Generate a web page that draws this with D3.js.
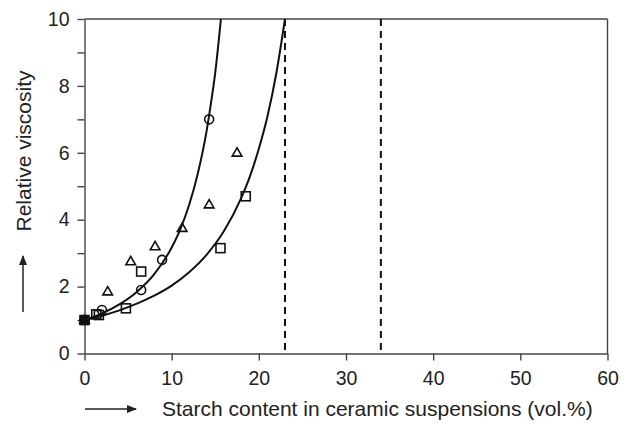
<!DOCTYPE html>
<html>
<head>
<meta charset="utf-8">
<script src="https://cdn.jsdelivr.net/npm/d3@7"></script>
<style>
  body { margin: 0; background: #fff; }
  svg text { font-family: "Liberation Sans", Arial, sans-serif; fill: #222; }
</style>
</head>
<body>
<div id="container"></div>
<script>
/* CONSTANTS AND GLOBALS */
const width = 629,
  height = 424;
const margin = { left: 84.5, right: 21.5, top: 19, bottom: 70.5 };

/* DATA */
const circleX = [0, 2.0, 6.5, 8.9, 14.3];
const circleY = [1.0, 1.3, 1.9, 2.8, 7.0];

const squareX = [0, 1.35, 1.65, 4.75, 6.5, 15.6, 18.5];
const squareY = [1.0, 1.17, 1.15, 1.35, 2.45, 3.15, 4.7];

const triangleX = [0, 2.66, 5.3, 8.1, 11.2, 14.3, 17.5];
const triangleY = [1.0, 1.85, 2.75, 3.2, 3.75, 4.45, 6.0];

// fitted curves
const fit1X = [0, 2, 4, 6, 8, 10, 11, 12, 13, 14, 14.5, 15, 15.65];
const fit1Y = [1.0, 1.2, 1.47, 1.84, 2.37, 3.17, 3.72, 4.44, 5.38, 6.64, 7.47, 8.4, 10];

const fit2X = [0, 2, 4, 6, 8, 10, 12, 14, 16, 18, 19, 20, 21, 22, 23];
const fit2Y = [1.0, 1.13, 1.29, 1.49, 1.73, 2.03, 2.43, 2.95, 3.66, 4.66, 5.31, 6.12, 7.1, 8.37, 10];

const dashedX = [23, 34];

const xTicks = [0, 10, 20, 30, 40, 50, 60];
const yTicks = [0, 1, 2, 3, 4, 5, 6, 7, 8, 9, 10];

const zip = (xs, ys) => xs.map((x, i) => ({ x: x, y: ys[i] }));

// SCALES
const xScale = d3.scaleLinear()
  .domain([0, 60])
  .range([margin.left, width - margin.right]);

const yScale = d3.scaleLinear()
  .domain([0, 10])
  .range([height - margin.bottom, margin.top]);

// CREATE SVG ELEMENT
const svg = d3.select("#container")
  .append("svg")
  .attr("width", width)
  .attr("height", height);

const axisColor = "#444";

// AXES
const xAxis = svg.append("g")
  .attr("class", "x-axis")
  .attr("transform", `translate(0,${height - margin.bottom})`)
  .call(d3.axisBottom(xScale).tickValues(xTicks).tickSize(7).tickSizeOuter(0).tickPadding(11));

const yAxis = svg.append("g")
  .attr("class", "y-axis")
  .attr("transform", `translate(${margin.left},0)`)
  .call(d3.axisLeft(yScale).tickValues(yTicks).tickSize(7).tickSizeOuter(0).tickPadding(8)
    .tickFormat(d => d % 2 === 0 ? d : ""));

[xAxis, yAxis].forEach(g => {
  g.selectAll("path, line").attr("stroke", axisColor).attr("stroke-width", 1.4);
  g.selectAll("text").style("font-size", "19.5px").attr("fill", "#222");
});

// frame top and right
svg.append("line")
  .attr("x1", xScale(0)).attr("x2", xScale(60))
  .attr("y1", yScale(10)).attr("y2", yScale(10))
  .attr("stroke", axisColor).attr("stroke-width", 1.4);
svg.append("line")
  .attr("x1", xScale(60)).attr("x2", xScale(60))
  .attr("y1", yScale(10)).attr("y2", yScale(0))
  .attr("stroke", axisColor).attr("stroke-width", 1.4);

// DASHED LINES
svg.selectAll(".dash")
  .data(dashedX)
  .join("line")
  .attr("class", "dash")
  .attr("x1", d => xScale(d)).attr("x2", d => xScale(d))
  .attr("y1", yScale(10)).attr("y2", yScale(0))
  .attr("stroke", "#111")
  .attr("stroke-width", 2)
  .attr("stroke-dasharray", "7,5");

// LINE GENERATOR FUNCTION
const lineGen = d3.line()
  .x(d => xScale(d.x))
  .y(d => yScale(d.y))
  .curve(d3.curveMonotoneX);

svg.selectAll(".fit")
  .data([zip(fit1X, fit1Y), zip(fit2X, fit2Y)])
  .join("path")
  .attr("class", "fit")
  .attr("fill", "none")
  .attr("stroke", "#111")
  .attr("stroke-width", 2)
  .attr("d", d => lineGen(d));

// MARKERS
svg.selectAll(".sq")
  .data(zip(squareX, squareY))
  .join("rect")
  .attr("class", "sq")
  .attr("x", d => xScale(d.x) - 4.5)
  .attr("y", d => yScale(d.y) - 4.5)
  .attr("width", 9).attr("height", 9)
  .attr("fill", (d, i) => i === 0 ? "#111" : "none")
  .attr("stroke", "#111").attr("stroke-width", 1.6);

svg.selectAll(".circ")
  .data(zip(circleX, circleY))
  .join("circle")
  .attr("class", "circ")
  .attr("cx", d => xScale(d.x))
  .attr("cy", d => yScale(d.y))
  .attr("r", 4.5)
  .attr("fill", "none")
  .attr("stroke", "#111").attr("stroke-width", 1.6);

const tri = d3.symbol().type(d3.symbolTriangle).size(40);
svg.selectAll(".tri")
  .data(zip(triangleX, triangleY))
  .join("path")
  .attr("class", "tri")
  .attr("transform", d => `translate(${xScale(d.x)},${yScale(d.y) + 0.5})`)
  .attr("d", tri)
  .attr("fill", "none")
  .attr("stroke", "#111").attr("stroke-width", 1.6);

// AXIS TITLES WITH ARROWS
svg.append("text")
  .attr("transform", "translate(31,151) rotate(-90)")
  .attr("text-anchor", "middle")
  .style("font-size", "21px")
  .text("Relative viscosity");

svg.append("text")
  .attr("x", 162)
  .attr("y", 416)
  .style("font-size", "21px")
  .text("Starch content in ceramic suspensions (vol.%)");

svg.append("defs").append("marker")
  .attr("id", "arrow")
  .attr("viewBox", "0 0 10 10")
  .attr("refX", 9).attr("refY", 5)
  .attr("markerWidth", 10).attr("markerHeight", 10)
  .attr("markerUnits", "userSpaceOnUse")
  .attr("orient", "auto")
  .append("path")
  .attr("d", "M0,1 L10,5 L0,9 Z")
  .attr("fill", "#222");

svg.append("line")
  .attr("x1", 23).attr("x2", 23)
  .attr("y1", 312).attr("y2", 256)
  .attr("stroke", "#222").attr("stroke-width", 1.5)
  .attr("marker-end", "url(#arrow)");

svg.append("line")
  .attr("x1", 85).attr("x2", 136)
  .attr("y1", 409).attr("y2", 409)
  .attr("stroke", "#222").attr("stroke-width", 1.5)
  .attr("marker-end", "url(#arrow)");
</script>
</body>
</html>
